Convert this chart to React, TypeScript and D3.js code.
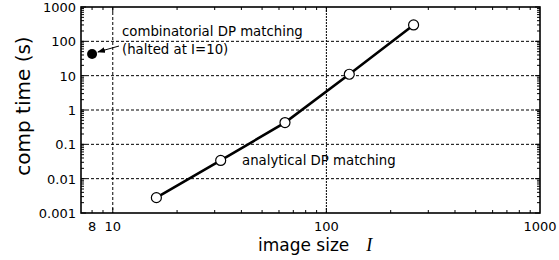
import * as React from "react";
import * as d3 from "d3";

// analytical DP matching
const sizes = [16, 32, 64, 128, 256];
const times = [0.0028, 0.034, 0.43, 11, 300];
// combinatorial DP matching (halted)
const haltSize = 8;
const haltTime = 43;

const yTicks = [0.001, 0.01, 0.1, 1, 10, 100, 1000];
const yTickLabels = ["0.001", "0.01", "0.1", "1", "10", "100", "1000"];
const xTicks = [8, 10, 100, 1000];
const xTickLabels = ["8", "10", "100", "1000"];
const xGrid = [10, 100];

const W = 559;
const H = 260;
const M = { left: 81, right: 19, top: 7, bottom: 47 };
const FONT = "'DejaVu Sans', Verdana, sans-serif";

export default function App() {
  const x = d3.scaleLog().domain([7.1, 1000]).range([M.left, W - M.right]);
  const y = d3.scaleLog().domain([0.001, 1000]).range([H - M.bottom, M.top]);
  const line = d3.line<number>().x((d, i) => x(sizes[i])).y(d => y(d));

  const x0 = M.left, x1 = W - M.right, y0 = H - M.bottom, y1 = M.top;

  // minor ticks
  const xMinor: number[] = [];
  [1, 10, 100].forEach(b => {
    for (let k = 2; k <= 9; k++) {
      const v = b * k;
      if (v >= 7.1 && v < 1000 && v !== 10 && v !== 100) xMinor.push(v);
    }
  });
  const yMinor: number[] = [];
  [0.001, 0.01, 0.1, 1, 10, 100].forEach(b => {
    for (let k = 2; k <= 9; k++) yMinor.push(b * k);
  });

  const ax = x(haltSize), ay = y(haltTime);

  return (
    <svg width={W} height={H} style={{ position: "absolute", left: 0, top: 0 }}>
      <defs>
        <marker id="arrow" markerWidth="8" markerHeight="6" refX="7" refY="3" orient="auto" markerUnits="userSpaceOnUse">
          <path d="M0,0 L8,3 L0,6 Z" fill="#000" />
        </marker>
      </defs>
      <rect width={W} height={H} fill="#fff" />
      {/* grid */}
      <g>
        {yTicks.slice(1, -1).map((t, i) => (
          <line key={i} x1={x0} x2={x1} y1={y(t)} y2={y(t)} stroke="#000" strokeWidth="1" strokeDasharray="3,2" />
        ))}
        {xGrid.map((t, i) => (
          <line key={i} x1={x(t)} x2={x(t)} y1={y1} y2={y0} stroke="#000" strokeWidth="1" strokeDasharray={i === 0 ? "3,2" : "2,1"} />
        ))}
      </g>
      {/* ticks */}
      <g stroke="#000" strokeWidth="1">
        {yTicks.map((t, i) => (
          <g key={i}>
            <line x1={x0} x2={x0 + 5} y1={y(t)} y2={y(t)} />
            <line x1={x1} x2={x1 - 5} y1={y(t)} y2={y(t)} />
          </g>
        ))}
        {yMinor.map((t, i) => (
          <g key={i}>
            <line x1={x0} x2={x0 + 3} y1={y(t)} y2={y(t)} />
            <line x1={x1} x2={x1 - 3} y1={y(t)} y2={y(t)} />
          </g>
        ))}
        {[10, 100].map((t, i) => (
          <g key={i}>
            <line x1={x(t)} x2={x(t)} y1={y0} y2={y0 - 5} />
            <line x1={x(t)} x2={x(t)} y1={y1} y2={y1 + 5} />
          </g>
        ))}
        {xMinor.map((t, i) => (
          <g key={i}>
            <line x1={x(t)} x2={x(t)} y1={y0} y2={y0 - 3} />
            <line x1={x(t)} x2={x(t)} y1={y1} y2={y1 + 3} />
          </g>
        ))}
      </g>
      <rect x={x0} y={y1} width={x1 - x0} height={y0 - y1} fill="none" stroke="#000" strokeWidth="1.6" />
      {/* tick labels */}
      <g fontFamily={FONT} fontSize="13" fill="#000">
        {yTicks.map((t, i) => (
          <text key={i} x={x0 - 5} y={y(t) + 5} textAnchor="end">{yTickLabels[i]}</text>
        ))}
        {xTicks.map((t, i) => (
          <text key={i} x={x(t)} y={y0 + 18} textAnchor="middle">{xTickLabels[i]}</text>
        ))}
      </g>
      {/* axis labels */}
      <text transform={`translate(30,106) rotate(-90)`} textAnchor="middle" fontFamily={FONT} fontSize="20">comp time (s)</text>
      <text x={258} y={251} fontFamily={FONT} fontSize="17">
        image size<tspan fontFamily="'Liberation Serif', serif" fontStyle="italic" dx="17" fontSize="18">I</tspan>
      </text>
      {/* data */}
      <path d={line(times) || ""} fill="none" stroke="#000" strokeWidth="2.6" />
      {times.map((t, i) => (
        <circle key={i} cx={x(sizes[i])} cy={y(t)} r="5" fill="#fff" stroke="#000" strokeWidth="1.2" />
      ))}
      <circle cx={ax} cy={ay} r="5" fill="#000" />
      <line x1={119} x2={ax + 6} y1={46} y2={ay - 2} stroke="#000" strokeWidth="1" markerEnd="url(#arrow)" />
      <g fontFamily={FONT} fontSize="13.3" fill="#000">
        <text x={122} y={36}>combinatorial DP matching</text>
        <text x={122} y={54}>(halted at I=10)</text>
        <text x={242} y={165}>analytical DP matching</text>
      </g>
    </svg>
  );
}
